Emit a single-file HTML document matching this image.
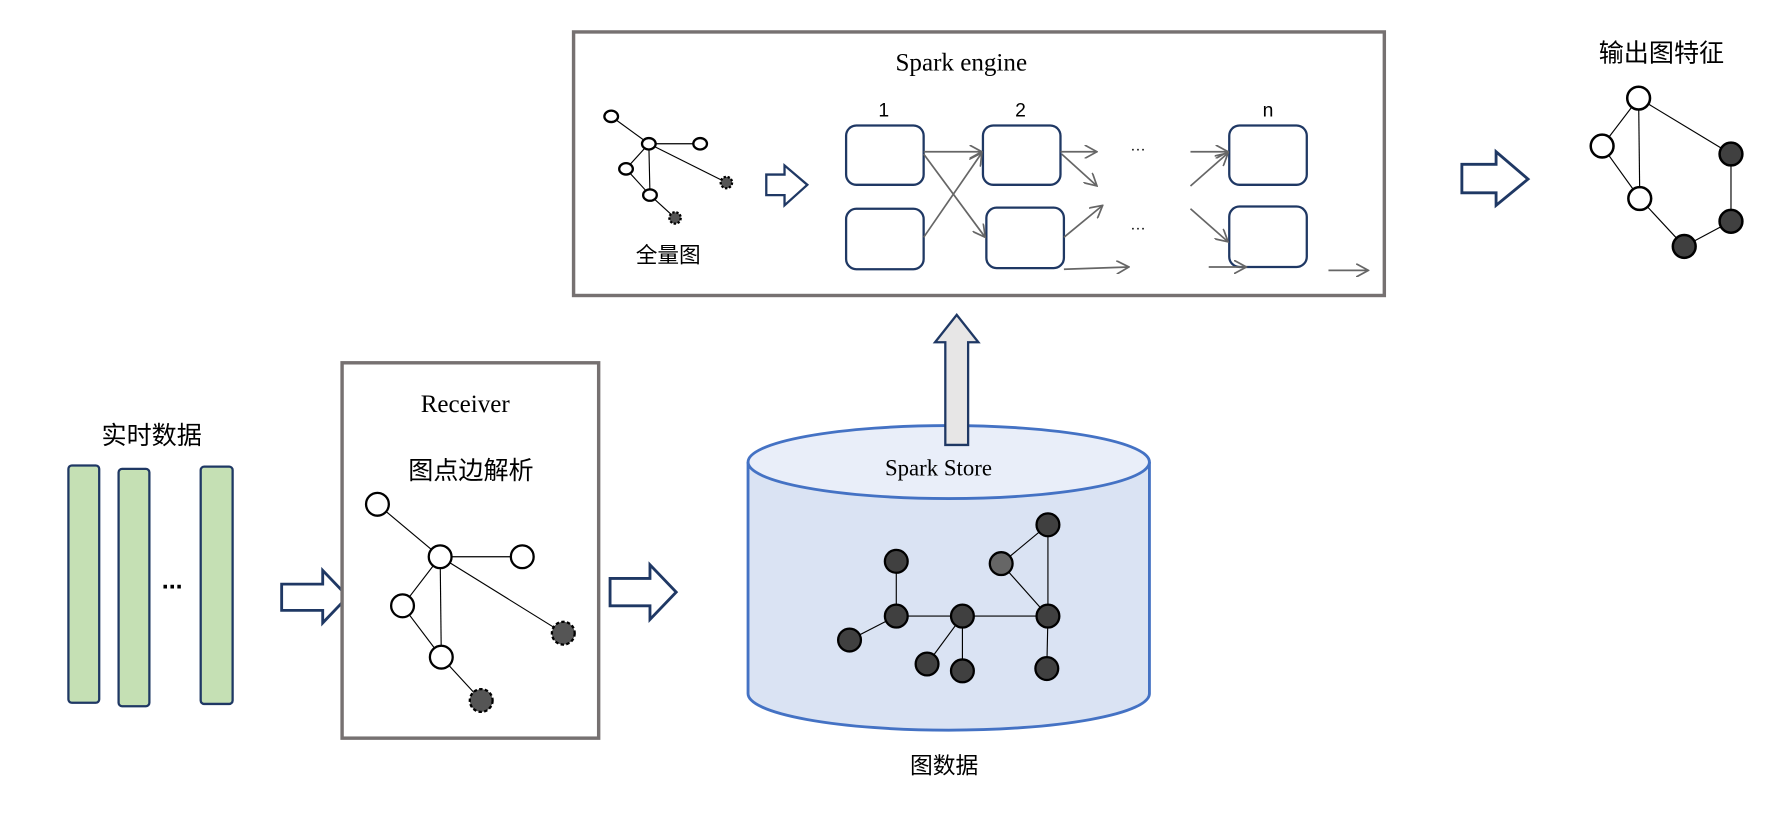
<!DOCTYPE html>
<html><head><meta charset="utf-8"><style>html,body{margin:0;padding:0;background:#fff}svg{display:block}</style></head>
<body>
<svg width="1788" height="826" viewBox="0 0 1568 724" preserveAspectRatio="none" xmlns="http://www.w3.org/2000/svg">
<defs>
<marker id="ar" markerWidth="12" markerHeight="12" refX="11" refY="6" orient="auto" markerUnits="userSpaceOnUse"><path d="M0,0 L11,6 L0,12" fill="none" stroke="#666" stroke-width="1.5"/></marker>
</defs>
<g font-family="Liberation Sans, Noto Sans CJK SC, sans-serif" fill="#000">
<!-- Spark engine box -->
<rect x="503" y="28" width="711" height="231" fill="#fff" stroke="#767171" stroke-width="3"/>
<text x="843" y="62" font-family="Liberation Serif, serif" font-size="22" text-anchor="middle">Spark engine</text>
<g stroke="#000" stroke-width="1">
<line x1="536" y1="102" x2="569" y2="126"/><line x1="569" y1="126" x2="614" y2="126"/><line x1="569" y1="126" x2="549" y2="148"/><line x1="569" y1="126" x2="570" y2="171"/><line x1="569" y1="126" x2="637" y2="160"/><line x1="549" y1="148" x2="570" y2="171"/><line x1="570" y1="171" x2="592" y2="191"/>
</g>
<g stroke="#000" stroke-width="2" fill="#fff">
<ellipse cx="536" cy="102" rx="6" ry="5"/><ellipse cx="569" cy="126" rx="6" ry="5"/><ellipse cx="614" cy="126" rx="6" ry="5"/><ellipse cx="549" cy="148" rx="6" ry="5"/><ellipse cx="570" cy="171" rx="6" ry="5"/>
<ellipse cx="637" cy="160" rx="5" ry="5" fill="#555" stroke-dasharray="2 1.5"/><ellipse cx="592" cy="191" rx="5" ry="5" fill="#555" stroke-dasharray="2 1.5"/>
</g>
<text x="586" y="230" font-size="19" text-anchor="middle">全量图</text>
<path d="M672,153 H688 V145 L708,162 L688,180 V171 H672 Z" fill="#fff" stroke="#1f3864" stroke-width="2"/>
<g fill="#fff" stroke="#1f3864" stroke-width="2">
<rect x="742" y="110" width="68" height="52" rx="9"/><rect x="862" y="110" width="68" height="52" rx="9"/><rect x="1078" y="110" width="68" height="52" rx="9"/>
<rect x="742" y="183" width="68" height="53" rx="9"/><rect x="865" y="182" width="68" height="53" rx="9"/><rect x="1078" y="181" width="68" height="53" rx="9"/>
</g>
<text x="775" y="102" font-size="17" text-anchor="middle">1</text>
<text x="895" y="102" font-size="17" text-anchor="middle">2</text>
<text x="1112" y="102" font-size="17" text-anchor="middle">n</text>
<g stroke="#666" stroke-width="1.5" marker-end="url(#ar)">
<line x1="810" y1="133" x2="861" y2="133"/><line x1="810" y1="135" x2="864" y2="208"/><line x1="810" y1="208" x2="861" y2="134"/>
<line x1="930" y1="133" x2="962" y2="133"/><line x1="931" y1="135" x2="962" y2="163"/><line x1="933" y1="208" x2="967" y2="180"/><line x1="933" y1="236" x2="990" y2="234"/>
<line x1="1044" y1="133" x2="1077" y2="133"/><line x1="1044" y1="163" x2="1077" y2="134"/><line x1="1044" y1="183" x2="1077" y2="212"/><line x1="1060" y1="234" x2="1093" y2="234"/><line x1="1165" y1="237" x2="1200" y2="237"/>
</g>
<text x="998" y="132" font-size="14" text-anchor="middle">…</text>
<text x="998" y="201" font-size="14" text-anchor="middle">…</text>
<!-- big arrow right -->
<path d="M1282,144 H1312 V133 L1340,157 L1312,180 V169 H1282 Z" fill="#fff" stroke="#1f3864" stroke-width="2.5"/>
<text x="1457" y="54" font-size="22" text-anchor="middle">输出图特征</text>
<g stroke="#000" stroke-width="1">
<line x1="1437" y1="86" x2="1405" y2="128"/><line x1="1437" y1="86" x2="1438" y2="174"/><line x1="1437" y1="86" x2="1518" y2="135"/><line x1="1405" y1="128" x2="1438" y2="174"/><line x1="1438" y1="174" x2="1477" y2="216"/><line x1="1477" y1="216" x2="1518" y2="194"/><line x1="1518" y1="135" x2="1518" y2="194"/>
</g>
<g stroke="#000" stroke-width="2.2">
<circle cx="1437" cy="86" r="10" fill="#fff"/><circle cx="1405" cy="128" r="10" fill="#fff"/><circle cx="1438" cy="174" r="10" fill="#fff"/>
<circle cx="1518" cy="135" r="10" fill="#404040"/><circle cx="1518" cy="194" r="10" fill="#404040"/><circle cx="1477" cy="216" r="10" fill="#404040"/>
</g>
<!-- left -->
<text x="133" y="389" font-size="22" text-anchor="middle">实时数据</text>
<g fill="#c5e0b4" stroke="#1f3864" stroke-width="2">
<rect x="60" y="408" width="27" height="208" rx="3"/><rect x="104" y="411" width="27" height="208" rx="3"/><rect x="176" y="409" width="28" height="208" rx="3"/>
</g>
<text x="151" y="516" font-size="22" font-weight="bold" text-anchor="middle">...</text>
<path d="M247,512 H283 V500 L305,523 L283,546 V535 H247 Z" fill="#fff" stroke="#1f3864" stroke-width="2.5"/>
<!-- receiver -->
<rect x="300" y="318" width="225" height="329" fill="#fff" stroke="#767171" stroke-width="3"/>
<text x="408" y="361" font-family="Liberation Serif, serif" font-size="22" text-anchor="middle">Receiver</text>
<text x="413" y="420" font-size="22" text-anchor="middle">图点边解析</text>
<g stroke="#000" stroke-width="1">
<line x1="331" y1="442" x2="386" y2="488"/><line x1="386" y1="488" x2="458" y2="488"/><line x1="386" y1="488" x2="353" y2="531"/><line x1="386" y1="488" x2="387" y2="576"/><line x1="386" y1="488" x2="494" y2="555"/><line x1="353" y1="531" x2="387" y2="576"/><line x1="387" y1="576" x2="422" y2="614"/>
</g>
<g stroke="#000" stroke-width="2" fill="#fff">
<circle cx="331" cy="442" r="10"/><circle cx="386" cy="488" r="10"/><circle cx="458" cy="488" r="10"/><circle cx="353" cy="531" r="10"/><circle cx="387" cy="576" r="10"/>
<circle cx="494" cy="555" r="10" fill="#555" stroke-dasharray="3 2"/><circle cx="422" cy="614" r="10" fill="#555" stroke-dasharray="3 2"/>
</g>
<path d="M535,507 H570 V495 L593,519 L570,543 V531 H535 Z" fill="#fff" stroke="#1f3864" stroke-width="2.5"/>
<!-- cylinder -->
<path d="M656,405 V608 A176,32 0 0 0 1008,608 V405" fill="#dae3f3" stroke="#4472c4" stroke-width="2.5"/>
<ellipse cx="832" cy="405" rx="176" ry="32" fill="#e9eef9" stroke="#4472c4" stroke-width="2.5"/>
<path d="M829,390 V300 H820 L839,276 L858,300 H849 V390 Z" fill="#e7e6e6" stroke="#1f3864" stroke-width="2"/>
<text x="823" y="417" font-family="Liberation Serif, serif" font-size="20" text-anchor="middle">Spark Store</text>
<g stroke="#000" stroke-width="1">
<line x1="786" y1="492" x2="786" y2="540"/><line x1="786" y1="540" x2="745" y2="561"/><line x1="786" y1="540" x2="919" y2="540"/><line x1="844" y1="540" x2="813" y2="582"/><line x1="844" y1="540" x2="844" y2="588"/><line x1="919" y1="460" x2="878" y2="494"/><line x1="919" y1="460" x2="919" y2="540"/><line x1="878" y1="494" x2="919" y2="540"/><line x1="919" y1="540" x2="918" y2="586"/>
</g>
<g stroke="#000" stroke-width="2" fill="#404040">
<circle cx="786" cy="492" r="10"/><circle cx="786" cy="540" r="10"/><circle cx="745" cy="561" r="10"/><circle cx="844" cy="540" r="10"/><circle cx="813" cy="582" r="10"/><circle cx="844" cy="588" r="10"/><circle cx="919" cy="460" r="10"/><circle cx="878" cy="494" r="10" fill="#666"/><circle cx="919" cy="540" r="10"/><circle cx="918" cy="586" r="10"/>
</g>
<text x="828" y="678" font-size="20" text-anchor="middle">图数据</text>
</g>
</svg>
</body></html>
